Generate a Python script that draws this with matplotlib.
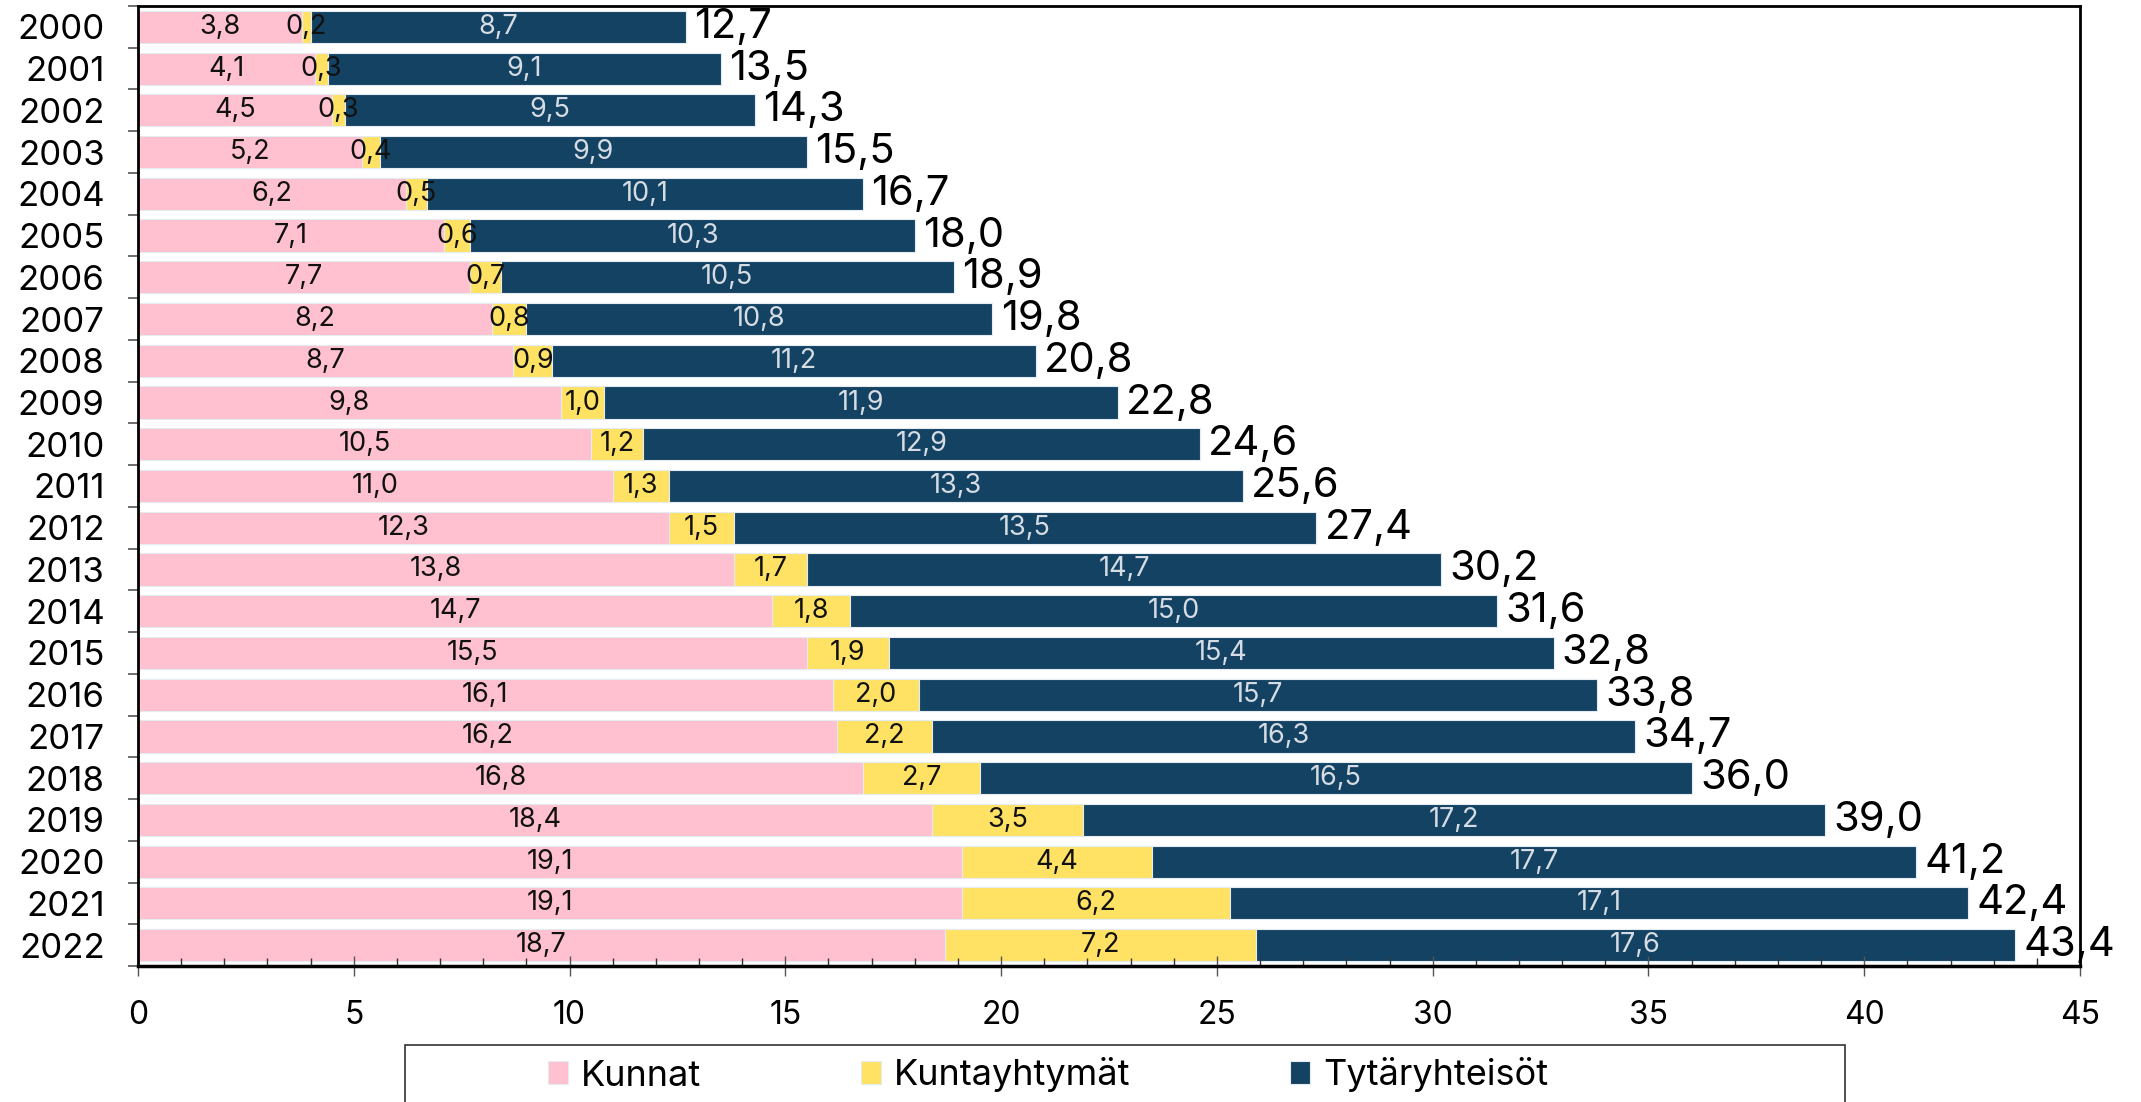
import matplotlib
matplotlib.use("Agg")
import matplotlib.pyplot as plt
import numpy as np
from matplotlib.patches import Rectangle
from matplotlib.ticker import MultipleLocator, FixedLocator

plt.rcParams['font.family'] = ['Inter', 'DejaVu Sans']

years = [str(y) for y in range(2000, 2023)]
kunnat = [3.8, 4.1, 4.5, 5.2, 6.2, 7.1, 7.7, 8.2, 8.7, 9.8, 10.5, 11.0, 12.3,
          13.8, 14.7, 15.5, 16.1, 16.2, 16.8, 18.4, 19.1, 19.1, 18.7]
kuntayhtymat = [0.2, 0.3, 0.3, 0.4, 0.5, 0.6, 0.7, 0.8, 0.9, 1.0, 1.2, 1.3, 1.5,
                1.7, 1.8, 1.9, 2.0, 2.2, 2.7, 3.5, 4.4, 6.2, 7.2]
tytar = [8.7, 9.1, 9.5, 9.9, 10.1, 10.3, 10.5, 10.8, 11.2, 11.9, 12.9, 13.3, 13.5,
         14.7, 15.0, 15.4, 15.7, 16.3, 16.5, 17.2, 17.7, 17.1, 17.6]
totals = [12.7, 13.5, 14.3, 15.5, 16.7, 18.0, 18.9, 19.8, 20.8, 22.8, 24.6, 25.6, 27.4,
          30.2, 31.6, 32.8, 33.8, 34.7, 36.0, 39.0, 41.2, 42.4, 43.4]
series_names = ["Kunnat", "Kuntayhtymät", "Tytäryhteisöt"]
colors = ["#ffc0cf", "#ffe264", "#134263"]
label_colors = ["#111111", "#111111", "#d5dce3"]


def fmt(v):
    return f"{v:.1f}".replace('.', ',')


W, H = 2141, 1102
fig = plt.figure(figsize=(W / 100, H / 100), dpi=100)
ax = fig.add_axes([138 / W, 1 - 966 / H, (2080 - 138) / W, (966 - 6) / H])

y = np.arange(len(years))
left = np.zeros(len(years))
series = [kunnat, kuntayhtymat, tytar]
handles = []
for vals, name, col, lcol in zip(series, series_names, colors, label_colors):
    vals = np.array(vals)
    bars = ax.barh(y, vals, left=left, height=0.77, color=col,
                   edgecolor="#e4ebf1", linewidth=0.8, label=name)
    handles.append(bars)
    ax.bar_label(bars, labels=[fmt(v) for v in vals], label_type='center',
                 color=lcol, fontsize=19.5)
    left = left + vals

for yi, (end, tot) in enumerate(zip(left, totals)):
    ax.annotate(fmt(tot), (end, yi), xytext=(6, 0), textcoords='offset points',
                ha='left', va='center', fontsize=30, color='black')

ax.set_xlim(0, 45)
ax.set_ylim(len(years) - 0.5, -0.5)

ax.xaxis.set_major_locator(MultipleLocator(5))
ax.xaxis.set_minor_locator(MultipleLocator(1))
ax.tick_params(axis='x', which='major', direction='inout', length=14.4, width=1,
               color='#555555', labelsize=23, pad=17)
ax.tick_params(axis='x', which='minor', direction='in', length=6, width=1,
               color='#333333')

ax.set_yticks(y)
ax.set_yticklabels(years)
ax.yaxis.set_minor_locator(FixedLocator(np.arange(-0.5, len(years), 1.0)))
ax.tick_params(axis='y', which='major', length=0, labelsize=25, pad=24)
ax.tick_params(axis='y', which='minor', direction='out', length=7, width=1.2,
               color='#555555')

for side in ['left', 'bottom', 'top', 'right']:
    ax.spines[side].set_color('black')
ax.spines['left'].set_linewidth(2)
ax.spines['bottom'].set_linewidth(2.5)
ax.spines['top'].set_linewidth(2)
ax.spines['right'].set_linewidth(2)

# legend box (extends past the bottom edge)
fig.patches.append(Rectangle((405 / W, -0.05), (1845 - 405) / W, 0.05 + 1 - 1045 / H,
                             transform=fig.transFigure, facecolor='none',
                             edgecolor='#333333', linewidth=1.2, clip_on=False))
fig.legend(handles=handles, labels=series_names, loc='center', ncol=3, mode='expand',
           bbox_to_anchor=(548 / W, 1 - 1090 / H, (1548 - 548) / W, 30 / H),
           frameon=False, borderpad=0, borderaxespad=0, fontsize=26,
           handlelength=0.55, handleheight=0.6, handletextpad=0.35)

fig.savefig("out.png", dpi=100)
